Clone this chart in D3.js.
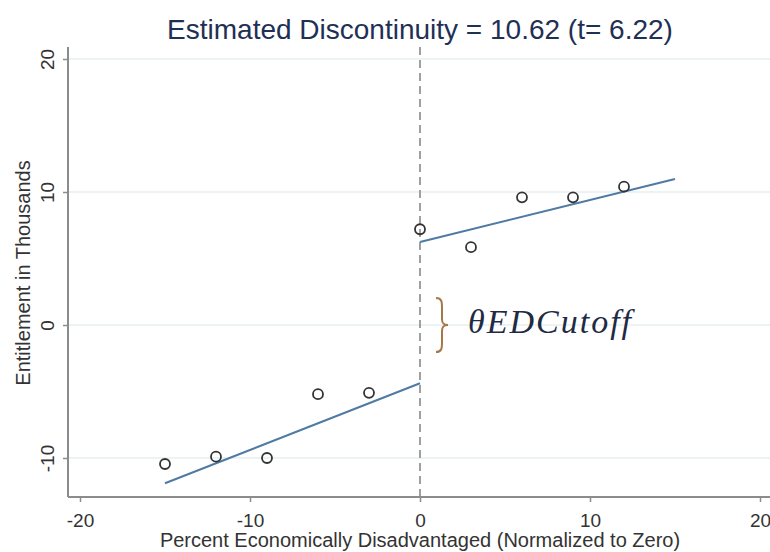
<!DOCTYPE html>
<html>
<head>
<meta charset="utf-8">
<script src="https://cdn.jsdelivr.net/npm/d3@7"></script>
<style>
  body { margin: 0; background: #fff; }
  svg { display: block; font-family: "Liberation Sans", Arial, sans-serif; }
</style>
</head>
<body>
<svg id="chart" width="770" height="552"></svg>
<script>
// binned means
const binX = [-15, -12, -9, -6, -3, 0, 3, 6, 9, 12];
const binY = [-10.45, -9.9, -10, -5.2, -5.1, 7.2, 5.85, 9.6, 9.6, 10.4];

// fitted lines on each side of the cutoff
const leftFitX = [-15, 0];
const leftFitY = [-11.9, -4.38];
const rightFitX = [0, 15];
const rightFitY = [6.24, 10.98];

const xTicks = [-20, -10, 0, 10, 20];
const yTicks = [-10, 0, 10, 20];

const svg = d3.select('#chart');

const x = d3.scaleLinear().domain([-20, 20]).range([80, 760]);
const y = d3.scaleLinear().domain([-10, 20]).range([458, 59]);

const plotLeft = 68, plotTop = 47, plotBottom = 497;
const fmt = d => String(d); // plain hyphen minus like the original

// light gridlines
svg.append('g')
  .selectAll('line')
  .data(yTicks)
  .join('line')
  .attr('x1', plotLeft + 1)
  .attr('x2', 770)
  .attr('y1', d => y(d))
  .attr('y2', d => y(d))
  .attr('stroke', '#e6eff1')
  .attr('stroke-width', 1.5);

// dashed cutoff line
svg.append('line')
  .attr('x1', x(0)).attr('x2', x(0))
  .attr('y1', plotTop).attr('y2', plotBottom)
  .attr('stroke', '#a0a0a0')
  .attr('stroke-width', 2)
  .attr('stroke-dasharray', '8,5');

// axes
const yAxis = svg.append('g')
  .attr('transform', `translate(${plotLeft},0)`)
  .call(d3.axisLeft(y).tickValues(yTicks).tickFormat(fmt).tickSize(5));
yAxis.select('.domain').attr('d', `M0,${plotTop}V${plotBottom}`);
yAxis.selectAll('text')
  .attr('x', 0).attr('y', 0).attr('dy', 0)
  .attr('transform', 'translate(-14,0) rotate(-90)')
  .style('text-anchor', 'middle');

const xAxis = svg.append('g')
  .attr('transform', `translate(0,${plotBottom})`)
  .call(d3.axisBottom(x).tickValues(xTicks).tickFormat(fmt).tickSize(5));
xAxis.select('.domain').attr('d', `M${plotLeft},0H770`);
xAxis.selectAll('text').attr('y', 30).attr('dy', 0);

svg.selectAll('.domain').attr('stroke', '#8c8c8c').attr('stroke-width', 2);
svg.selectAll('.tick line').attr('stroke', '#8c8c8c').attr('stroke-width', 1.5);
svg.selectAll('.tick text').attr('fill', '#333').style('font-size', '19px');

// fit lines
const line = d3.line().x(d => x(d[0])).y(d => y(d[1]));
[[leftFitX, leftFitY], [rightFitX, rightFitY]].forEach(([fx, fy]) => {
  svg.append('path')
    .datum(fx.map((v, i) => [v, fy[i]]))
    .attr('d', line)
    .attr('fill', 'none')
    .attr('stroke', '#4f7aa3')
    .attr('stroke-width', 2);
});

// points
svg.append('g')
  .selectAll('circle')
  .data(binX.map((v, i) => [v, binY[i]]))
  .join('circle')
  .attr('cx', d => x(d[0]))
  .attr('cy', d => y(d[1]))
  .attr('r', 5)
  .attr('fill', 'none')
  .attr('stroke', '#333')
  .attr('stroke-width', 1.8);

// title
svg.append('text')
  .attr('x', 420).attr('y', 39)
  .attr('text-anchor', 'middle')
  .attr('fill', '#1f3055')
  .style('font-size', '28px')
  .text('Estimated Discontinuity = 10.62 (t= 6.22)');

// axis titles
svg.append('text')
  .attr('x', 420).attr('y', 547)
  .attr('text-anchor', 'middle')
  .attr('fill', '#333')
  .style('font-size', '20px')
  .text('Percent Economically Disadvantaged (Normalized to Zero)');

svg.append('text')
  .attr('transform', 'translate(30,273) rotate(-90)')
  .attr('text-anchor', 'middle')
  .attr('fill', '#333')
  .style('font-size', '20px')
  .text('Entitlement in Thousands');

// annotation: brace and label
const bx = 436, by0 = 298, by1 = 352, bm = (by0 + by1) / 2;
svg.append('path')
  .attr('d', `M${bx},${by0} C${bx + 6},${by0} ${bx + 6},${by0 + 4} ${bx + 6},${by0 + 10}
              L${bx + 6},${bm - 6} C${bx + 6},${bm - 1} ${bx + 8},${bm} ${bx + 12},${bm}
              C${bx + 8},${bm} ${bx + 6},${bm + 1} ${bx + 6},${bm + 6}
              L${bx + 6},${by1 - 10} C${bx + 6},${by1 - 4} ${bx + 6},${by1} ${bx},${by1}`)
  .attr('fill', 'none')
  .attr('stroke', '#a5784a')
  .attr('stroke-width', 2);

svg.append('text')
  .attr('x', 468).attr('y', 333)
  .attr('fill', '#1f2a44')
  .style('font-family', '"Liberation Serif", serif')
  .style('font-style', 'italic')
  .style('font-size', '34px')
  .style('letter-spacing', '2px')
  .text('θEDCutoff');
</script>
</body>
</html>
